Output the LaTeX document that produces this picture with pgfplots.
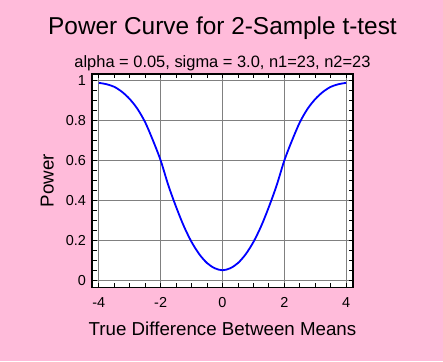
\documentclass[border=0pt]{standalone}
\usepackage{fontspec}
\setmainfont{Liberation Sans}
\usepackage{pgfplots}
\pgfplotsset{compat=1.18}
\definecolor{bgpink}{RGB}{255,187,218}
\definecolor{curveblue}{RGB}{0,0,255}
\definecolor{gridgray}{RGB}{128,128,128}
\begin{document}
\begin{tikzpicture}[x=1bp,y=1bp]
\fill[bgpink] (0,0) rectangle (443,361);
\useasboundingbox (0,0) rectangle (443,361);
\begin{axis}[
  at={(92bp,73.5bp)}, anchor=south west,
  scale only axis, width=261bp, height=213.5bp,
  xmin=-4.22, xmax=4.22, ymin=-0.034, ymax=1.031,
  clip=false,
  axis background/.style={fill=white},
  xtick={-4,-2,0,2,4}, ytick={0,0.2,0.4,0.6,0.8,1},
  minor x tick num=3, minor y tick num=3,
  tick align=inside, tick pos=both,
  major tick length=4.5bp, minor tick length=4.5bp,
  tick style={black, line width=0.9bp},
  axis line style={black, line width=1.5bp},
  grid=major, major grid style={gridgray, line width=1.1bp},
  /pgf/number format/assume math mode=true,
  ticklabel style={font=\fontsize{14.5}{17}\selectfont},
  yticklabel style={xshift=-2.5bp},
  xticklabel style={yshift=-6.5bp},
  xlabel={True Difference Between Means},
  xlabel style={at={(axis description cs:0.5,-0.2258)}, anchor=base, font=\fontsize{18.8}{22}\selectfont},
  ylabel={Power},
  ylabel style={at={(axis description cs:-0.1475,0.5)}, anchor=base, font=\fontsize{18.8}{22}\selectfont},
  title={Power Curve for 2-Sample t-test},
  title style={at={(axis description cs:0.5,1.159)}, anchor=base, font=\fontsize{24.5}{29}\selectfont},
]
\addplot[curveblue, line width=1.8bp, smooth] coordinates {
(-4,0.987) (-3.75,0.980) (-3.5,0.967) (-3.25,0.942) (-3,0.906) (-2.75,0.857)
(-2.5,0.790) (-2.25,0.700) (-2,0.600) (-1.75,0.475) (-1.5,0.368) (-1.25,0.272)
(-1,0.193) (-0.75,0.132) (-0.5,0.088) (-0.25,0.062) (0,0.052)
(0.25,0.062) (0.5,0.088) (0.75,0.132) (1,0.193) (1.25,0.272) (1.5,0.368)
(1.75,0.475) (2,0.600) (2.25,0.700) (2.5,0.790) (2.75,0.857) (3,0.906)
(3.25,0.942) (3.5,0.967) (3.75,0.980) (4,0.987)
};
\node[anchor=base, font=\fontsize{16.5}{20}\selectfont] at (axis description cs:0.5,1.0295) {alpha = 0.05, sigma = 3.0, n1=23, n2=23};
\end{axis}
\end{tikzpicture}
\end{document}
